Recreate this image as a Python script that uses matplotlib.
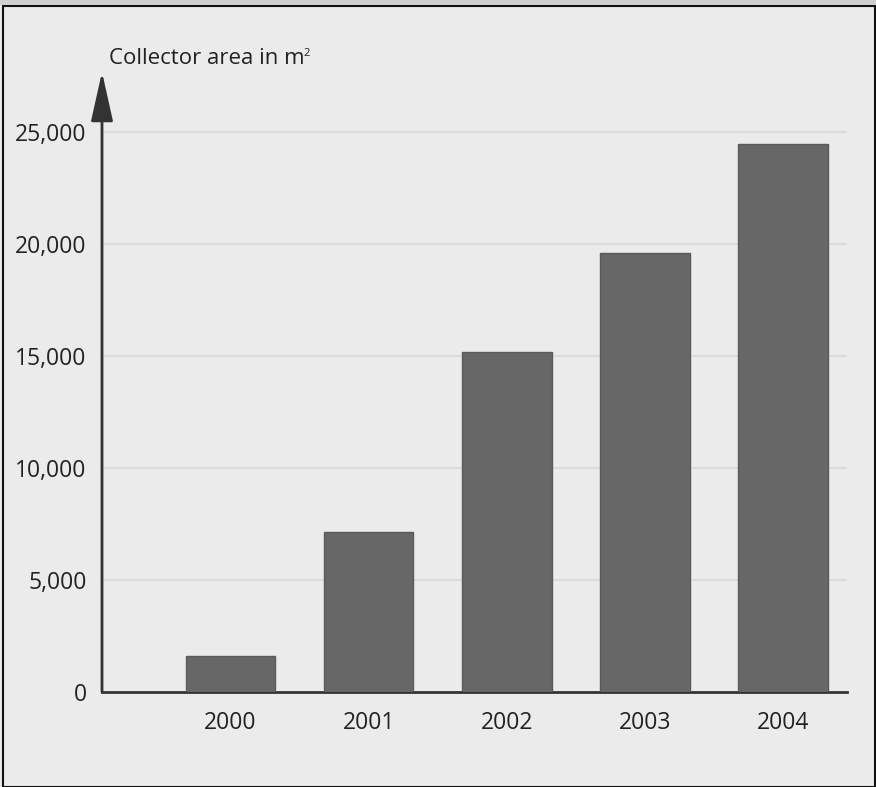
import matplotlib
matplotlib.use("Agg")
import matplotlib.pyplot as plt
from matplotlib.patches import Rectangle, FancyArrowPatch

years = ["2000", "2001", "2002", "2003", "2004"]
area = [1600, 7150, 15200, 19600, 24500]
yticks = [0, 5000, 10000, 15000, 20000, 25000]
ytick_labels = ["0", "5,000", "10,000", "15,000", "20,000", "25,000"]

plt.rcParams['font.family'] = ['Open Sans', 'DejaVu Sans']

W, H = 876, 787
fig = plt.figure(figsize=(W / 100, H / 100), dpi=100, facecolor="#ebebeb")

# outer frame
fig.patches.append(Rectangle((3 / W, 0), (W - 4) / W, (H - 6) / H, transform=fig.transFigure,
                             fill=False, edgecolor="#111111", linewidth=1.5))
fig.patches.append(Rectangle((0, (H - 5) / H), 1, 5 / H, transform=fig.transFigure,
                             facecolor="#cfcfcf", edgecolor="none"))

ax = fig.add_axes([102 / W, 1 - 692 / H, (847 - 102) / W, (692 - 72) / H])
ax.set_facecolor("none")
x = list(range(len(years)))
ax.bar(x, area, width=0.65, color="#676767", edgecolor="#5a5a5a", linewidth=1.0, zorder=3)
ax.set_xlim(-0.93, 4.464)
ax.set_ylim(0, 27700)

for v in yticks[1:]:
    ax.axhline(v, color="#d8d8d8", linewidth=1.2, zorder=1)

ax.set_yticks(yticks)
ax.set_yticklabels(ytick_labels)
ax.set_xticks(x)
ax.set_xticklabels(years)
ax.tick_params(axis="both", length=0, labelsize=16.5, colors="#222222")
ax.tick_params(axis="y", pad=11)
ax.tick_params(axis="x", pad=14)

for s in ["top", "right", "left"]:
    ax.spines[s].set_visible(False)
ax.spines["bottom"].set_color("#333333")
ax.spines["bottom"].set_linewidth(2.0)

arrow = FancyArrowPatch((0, 0), (0, 1), transform=ax.transAxes,
                        arrowstyle="-|>,head_length=1.7,head_width=0.38",
                        mutation_scale=18, color="#333333", linewidth=2.0,
                        shrinkA=0, shrinkB=0, clip_on=False, zorder=5)
ax.add_patch(arrow)

t = fig.text(109 / W, 1 - 58 / H, "Collector area in m", fontsize=16, color="#222222",
             ha="left", va="center")
fig.canvas.draw()
bb = t.get_window_extent()
fig.text((bb.x1 - 1) / W, (bb.y1 - 1) / H, "2", fontsize=8, color="#222222",
         ha="left", va="top")

fig.savefig("out.png", dpi=100, facecolor=fig.get_facecolor())
